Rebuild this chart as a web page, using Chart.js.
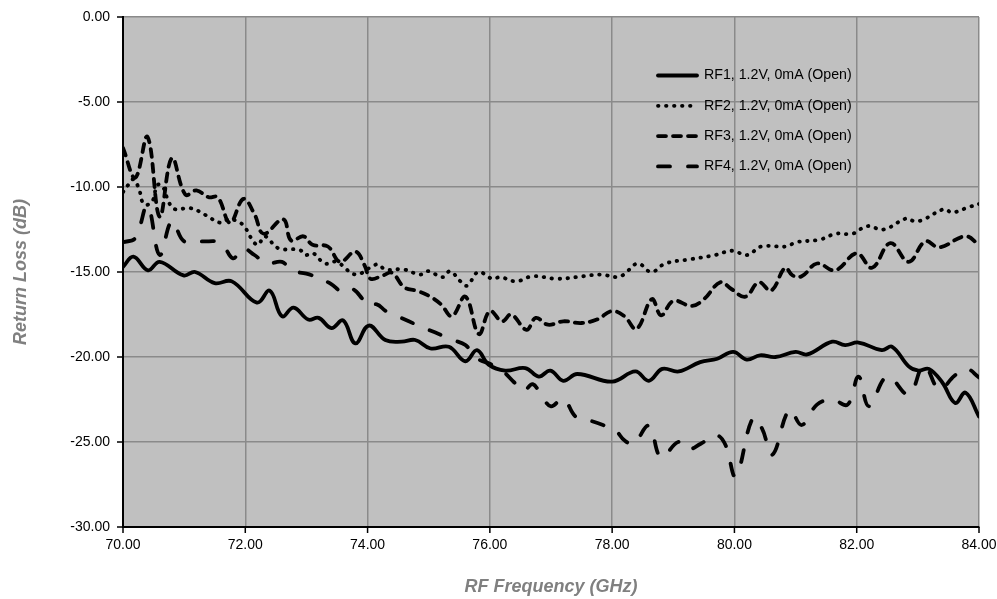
<!DOCTYPE html>
<html>
<head>
<meta charset="utf-8">
<script src="https://cdn.jsdelivr.net/npm/chart.js@4.4.1/dist/chart.umd.min.js"></script>
<style>
html,body{margin:0;padding:0;background:#fff;}
#wrap{width:997px;height:599px;position:relative;}
</style>
</head>
<body>
<div id="wrap"><canvas id="c"></canvas></div>
<script>
// ---- Data ----
const seriesLabels = ["RF1, 1.2V, 0mA (Open)","RF2, 1.2V, 0mA (Open)","RF3, 1.2V, 0mA (Open)","RF4, 1.2V, 0mA (Open)"];

const rf1Freq = [70.0,70.17,70.41,70.6,70.99,71.18,71.5,71.78,72.19,72.4,72.6,72.79,73.03,73.2,73.41,73.6,73.8,74.02,74.29,74.56,74.78,75.03,75.33,75.6,75.79,75.98,76.25,76.58,76.8,76.99,77.2,77.43,78.0,78.38,78.6,78.82,79.09,79.44,79.72,79.98,80.2,80.42,80.67,81.0,81.19,81.6,81.81,82.03,82.41,82.58,82.85,83.01,83.18,83.4,83.61,83.78,84.0];
const rf1Loss = [-14.7,-14.1,-14.9,-14.4,-15.2,-15.0,-15.65,-15.55,-16.8,-16.1,-17.6,-17.1,-17.8,-17.7,-18.3,-17.85,-19.2,-18.15,-19.0,-19.1,-19.0,-19.5,-19.4,-20.25,-19.6,-20.45,-20.8,-20.65,-21.15,-20.8,-21.4,-21.0,-21.45,-20.85,-21.4,-20.7,-20.85,-20.3,-20.1,-19.7,-20.15,-19.9,-20.0,-19.7,-19.85,-19.1,-19.3,-19.15,-19.6,-19.4,-20.55,-20.8,-20.7,-21.5,-22.7,-22.1,-23.5];

const rf2Freq = [70.0,70.08,70.17,70.26,70.34,70.47,70.56,70.64,70.75,70.84,71.11,71.35,71.59,71.73,71.86,71.98,72.13,72.21,72.32,72.54,72.89,72.98,73.11,73.3,73.49,73.8,74.04,74.17,74.29,74.59,74.86,74.99,75.23,75.35,75.52,75.63,75.81,76.04,76.17,76.43,76.7,77.1,77.53,77.81,78.08,78.19,78.42,78.64,78.87,79.28,79.69,79.96,80.21,80.44,80.86,81.0,81.39,81.66,81.93,82.17,82.44,82.81,82.93,83.07,83.43,83.56,83.82,84.0];
const rf2Loss = [-10.3,-9.9,-9.55,-10.1,-11.0,-10.9,-9.9,-9.9,-10.9,-11.3,-11.25,-11.65,-12.1,-11.9,-12.0,-12.3,-13.2,-13.4,-12.9,-13.6,-13.7,-14.0,-13.9,-14.5,-14.4,-15.15,-14.75,-14.55,-14.85,-14.85,-15.15,-14.95,-15.3,-14.95,-15.55,-15.8,-15.0,-15.4,-15.3,-15.55,-15.25,-15.4,-15.25,-15.15,-15.3,-15.15,-14.5,-15.0,-14.5,-14.25,-14.0,-13.75,-14.0,-13.5,-13.5,-13.25,-13.1,-12.75,-12.75,-12.3,-12.5,-11.85,-12.0,-11.95,-11.3,-11.5,-11.2,-11.0];

const rf3Freq = [70.0,70.2,70.4,70.6,70.8,71.02,71.2,71.4,71.55,71.75,71.97,72.15,72.3,72.62,72.75,72.95,73.1,73.35,73.55,73.8,73.95,74.05,74.25,74.4,74.6,74.8,75.0,75.2,75.38,75.6,75.82,76.0,76.2,76.35,76.6,76.75,76.95,77.2,77.5,77.75,78.0,78.2,78.4,78.65,78.8,79.0,79.3,79.5,79.77,79.95,80.18,80.4,80.6,80.83,80.95,81.1,81.35,81.65,82.0,82.25,82.55,82.85,83.12,83.35,83.78,84.0];
const rf3Loss = [-7.7,-9.45,-7.05,-11.75,-8.3,-10.45,-10.2,-10.6,-10.6,-12.1,-10.7,-11.6,-12.75,-11.9,-13.15,-12.9,-13.4,-13.5,-14.4,-13.8,-14.6,-15.4,-15.2,-15.05,-15.9,-16.1,-16.4,-16.9,-17.6,-16.45,-18.65,-17.3,-17.9,-17.5,-18.4,-17.7,-18.1,-17.9,-18.0,-17.8,-17.3,-17.6,-18.35,-16.6,-17.55,-16.7,-17.0,-16.6,-15.6,-16.0,-16.45,-15.6,-16.1,-14.75,-15.2,-15.25,-14.5,-14.9,-13.9,-14.75,-13.3,-14.4,-13.2,-13.55,-12.9,-13.4];

const rf4Freq = [70.0,70.2,70.4,70.6,70.8,71.0,71.3,71.6,71.8,71.95,72.15,72.35,72.6,72.75,73.0,73.2,73.4,73.6,73.75,73.92,74.0,74.15,74.3,74.55,74.8,75.0,75.2,75.4,75.6,75.8,76.0,76.2,76.4,76.55,76.7,76.85,77.0,77.2,77.4,77.6,77.85,78.05,78.2,78.35,78.6,78.8,79.08,79.23,79.45,79.7,79.85,80.02,80.3,80.45,80.62,80.9,81.1,81.35,81.6,81.85,82.03,82.2,82.5,82.85,83.1,83.35,83.6,83.8,84.0];
const rf4Loss = [-13.25,-13.0,-11.1,-14.0,-12.0,-13.2,-13.2,-13.3,-14.2,-13.6,-14.0,-14.5,-14.4,-14.9,-15.1,-15.35,-15.7,-16.2,-16.0,-16.6,-17.0,-16.9,-17.3,-17.7,-18.1,-18.4,-18.7,-19.0,-19.3,-20.1,-20.4,-20.8,-21.5,-22.0,-21.6,-22.3,-22.9,-22.45,-23.5,-23.7,-24.0,-24.3,-24.9,-25.1,-24.05,-25.9,-25.0,-25.45,-25.1,-24.6,-25.15,-27.0,-23.6,-24.2,-25.75,-23.1,-24.0,-22.8,-22.5,-22.8,-21.15,-22.9,-21.15,-22.2,-20.5,-21.9,-21.1,-20.7,-21.2];

const xMin = 70, xMax = 84, xStep = 2;
const yMin = -30, yMax = 0, yStep = 5;
const xTitle = "RF Frequency (GHz)";
const yTitle = "Return Loss (dB)";

// ---- Build ----
const pairs = (xs, ys) => xs.map((x, i) => ({x: x, y: ys[i]}));
const FONT = "'Liberation Sans', Arial, sans-serif";

const styles = [
  {borderDash: [], borderCapStyle: 'round'},
  {borderDash: [0.5, 7.5], borderCapStyle: 'round'},
  {borderDash: [8, 7], borderCapStyle: 'round'},
  {borderDash: [12, 18], borderCapStyle: 'round'}
];
const allData = [pairs(rf1Freq, rf1Loss), pairs(rf2Freq, rf2Loss), pairs(rf3Freq, rf3Loss), pairs(rf4Freq, rf4Loss)];

const datasets = allData.map((d, i) => ({
  label: seriesLabels[i],
  data: d,
  borderColor: '#000',
  backgroundColor: '#000',
  borderWidth: 3.8,
  borderDash: styles[i].borderDash,
  borderCapStyle: styles[i].borderCapStyle,
  borderJoinStyle: 'round',
  pointRadius: 0,
  tension: 0.4,
  fill: false
}));

const plotBg = {
  id: 'plotBg',
  beforeDraw(chart) {
    const {ctx, chartArea: a} = chart;
    ctx.save();
    ctx.fillStyle = '#C0C0C0';
    ctx.fillRect(a.left, a.top, a.right - a.left, a.bottom - a.top);
    ctx.restore();
  }
};

const tickMarks = {
  id: 'tickMarks',
  afterDraw(chart) {
    const {ctx, chartArea: a, scales} = chart;
    ctx.save();
    ctx.strokeStyle = '#000';
    ctx.lineWidth = 1.5;
    scales.y.ticks.forEach(t => {
      const y = scales.y.getPixelForValue(t.value);
      ctx.beginPath(); ctx.moveTo(a.left - 6, y); ctx.lineTo(a.left, y); ctx.stroke();
    });
    scales.x.ticks.forEach(t => {
      const x = scales.x.getPixelForValue(t.value);
      ctx.beginPath(); ctx.moveTo(x, a.bottom); ctx.lineTo(x, a.bottom + 6); ctx.stroke();
    });
    ctx.restore();
  }
};

const innerLegend = {
  id: 'innerLegend',
  afterDatasetsDraw(chart) {
    const {ctx, chartArea: a} = chart;
    const x0 = a.left + 535, lineLen = 39;
    ctx.save();
    chart.data.datasets.forEach((ds, i) => {
      const y = a.top + 58.5 + i * 30.3;
      ctx.strokeStyle = ds.borderColor;
      ctx.lineWidth = ds.borderWidth;
      ctx.lineCap = ds.borderCapStyle;
      ctx.setLineDash(ds.borderDash);
      ctx.beginPath(); ctx.moveTo(x0, y); ctx.lineTo(x0 + lineLen, y); ctx.stroke();
      ctx.setLineDash([]);
      ctx.fillStyle = '#000';
      ctx.font = '14.2px ' + FONT;
      ctx.textBaseline = 'middle';
      ctx.textAlign = 'left';
      ctx.fillText(ds.label, x0 + lineLen + 7, y);
    });
    ctx.restore();
  }
};

new Chart(document.getElementById('c'), {
  type: 'line',
  data: {datasets: datasets},
  plugins: [plotBg, tickMarks, innerLegend],
  options: {
    responsive: true,
    maintainAspectRatio: false,
    animation: false,
    layout: {padding: {top: 17, right: 18, bottom: 0, left: 0}},
    plugins: {legend: {display: false}, tooltip: {enabled: false}},
    scales: {
      x: {
        type: 'linear', min: xMin, max: xMax,
        afterFit(s) { s.height = 72; s.paddingLeft = 0; s.paddingRight = 0; },
        ticks: {stepSize: xStep, padding: 10, color: '#000', font: {family: FONT, size: 14},
                callback: v => Number(v).toFixed(2), maxRotation: 0},
        grid: {color: '#8a8a8a', lineWidth: 1.5, drawTicks: false},
        border: {color: '#000', width: 2},
        title: {display: true, text: xTitle, color: '#808080',
                font: {family: FONT, size: 18, weight: 'bold', style: 'italic'},
                padding: {top: 4, bottom: 1}}
      },
      y: {
        type: 'linear', min: yMin, max: yMax,
        afterFit(s) { s.width = 123; s.paddingTop = 0; s.paddingBottom = 0; },
        ticks: {stepSize: yStep, padding: 13, color: '#000', font: {family: FONT, size: 14},
                callback: v => Number(v).toFixed(2)},
        grid: {color: '#8a8a8a', lineWidth: 1.5, drawTicks: false},
        border: {color: '#000', width: 2},
        title: {display: true, text: yTitle, color: '#808080',
                font: {family: FONT, size: 18, weight: 'bold', style: 'italic'},
                padding: {top: 10, bottom: 4}}
      }
    }
  }
});
</script>
</body>
</html>
